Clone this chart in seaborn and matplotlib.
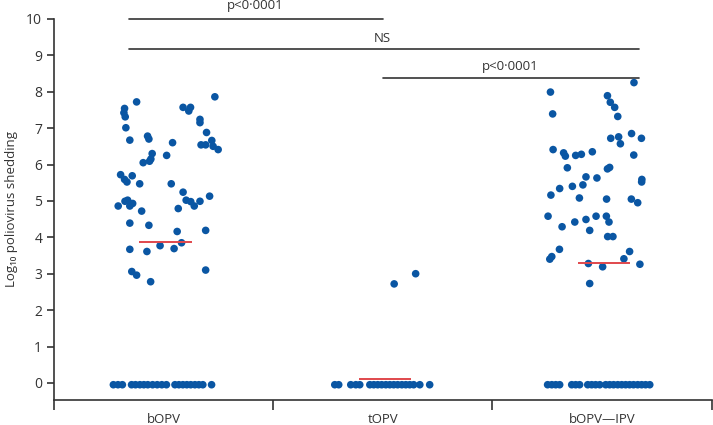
import numpy as np
import pandas as pd
import seaborn as sns
import matplotlib.pyplot as plt

groups = ["bOPV", "tOPV", "bOPV\u2014IPV"]

# bOPV: shedding values and horizontal spread
bopv_vals = [7.72, 7.54, 7.42, 7.31, 7.01, 6.67, 6.78, 6.70, 6.30, 6.15, 6.09, 6.05,
             6.25, 6.60, 7.57, 7.57, 7.47, 7.24, 7.15, 6.88, 7.86, 6.66, 6.54, 6.54,
             6.50, 6.41, 5.72, 5.59, 5.52, 5.69, 5.47, 4.86, 4.99, 5.02, 4.86, 4.93,
             4.72, 5.47, 5.24, 5.02, 4.98, 4.86, 4.99, 5.13, 4.79, 4.39, 4.33, 3.67,
             3.61, 3.77, 3.69, 3.85, 4.16, 4.19, 3.10, 3.06, 2.96, 2.78]
bopv_jit = [-0.123, -0.178, -0.181, -0.175, -0.172, -0.154, -0.073, -0.067, -0.052, -0.058,
            -0.064, -0.093, 0.014, 0.041, 0.089, 0.123, 0.115, 0.166, 0.166, 0.196,
            0.234, 0.220, 0.171, 0.192, 0.226, 0.249, -0.196, -0.178, -0.167, -0.143,
            -0.109, -0.207, -0.176, -0.164, -0.154, -0.141, -0.100, 0.035, 0.089, 0.103,
            0.124, 0.140, 0.166, 0.210, 0.067, -0.154, -0.067, -0.154, -0.076, -0.016,
            0.048, 0.082, 0.062, 0.192, 0.192, -0.145, -0.123, -0.059]
bopv_zero_jit = [-0.229, -0.208, -0.188, -0.146, -0.128, -0.108, -0.090, -0.072, -0.050,
                 -0.029, -0.008, 0.013, 0.052, 0.070, 0.088, 0.106, 0.124, 0.143, 0.161,
                 0.179, 0.219]

# tOPV
topv_vals = [2.72, 3.00]
topv_jit = [0.052, 0.150]
topv_zero_jit = [-0.219, -0.201, -0.146, -0.123, -0.105, -0.059, -0.041, -0.023, -0.005,
                 0.014, 0.032, 0.050, 0.068, 0.087, 0.105, 0.123, 0.141, 0.169, 0.214]

# bOPV-IPV
ipv_vals = [8.25, 7.99, 7.89, 7.71, 7.57, 7.32, 7.39, 6.72, 6.76, 6.57, 6.85, 6.72,
            6.26, 6.41, 6.32, 6.23, 6.25, 6.28, 6.35, 5.91, 5.88, 5.92, 5.66, 5.63,
            5.59, 5.52, 5.34, 5.40, 5.44, 5.16, 5.08, 5.05, 5.05, 4.95, 4.58, 4.29,
            4.42, 4.49, 4.58, 4.58, 4.42, 4.19, 4.02, 4.02, 3.67, 3.40, 3.47, 3.61,
            3.41, 3.26, 3.28, 3.19, 2.73]
ipv_jit = [0.146, -0.235, 0.025, 0.038, 0.058, 0.072, -0.225, 0.040, 0.076, 0.084,
           0.135, 0.180, 0.145, -0.223, -0.175, -0.167, -0.120, -0.094, -0.044, -0.158,
           0.025, 0.035, -0.073, -0.023, 0.182, 0.181, -0.193, -0.135, -0.087, -0.233,
           -0.103, 0.021, 0.134, 0.163, -0.246, -0.182, -0.124, -0.073, -0.027, 0.020,
           0.032, -0.056, 0.026, 0.050, -0.194, -0.238, -0.229, 0.126, 0.100, 0.173,
           -0.062, 0.003, -0.056]
ipv_zero_jit = [-0.248, -0.229, -0.211, -0.193, -0.138, -0.120, -0.102, -0.065, -0.047,
                -0.029, -0.010, 0.017, 0.035, 0.053, 0.072, 0.090, 0.108, 0.126, 0.144,
                0.163, 0.181, 0.199, 0.218]

zero_shown = -0.05  # undetectable samples drawn just under 0
medians = [3.86, 0.11, 3.29]

rows = []
for gi, (vals, jit, zjit) in enumerate([(bopv_vals, bopv_jit, bopv_zero_jit),
                                         (topv_vals, topv_jit, topv_zero_jit),
                                         (ipv_vals, ipv_jit, ipv_zero_jit)]):
    for v, j in zip(vals, jit):
        rows.append({"group": groups[gi], "x": gi + j, "shedding": v})
    for j in zjit:
        rows.append({"group": groups[gi], "x": gi + j, "shedding": zero_shown})
df = pd.DataFrame(rows)

sns.set_style("white")
plt.rcParams["font.family"] = ["Open Sans", "DejaVu Sans"]
ink = "#333333"

fig = plt.figure(figsize=(7.13, 4.25), dpi=100)
ax = fig.add_axes([0.0757, 0.0588, 0.9223, 0.8967])

sns.scatterplot(data=df, x="x", y="shedding", color="#0a56a3", s=30,
                edgecolor="none", ax=ax, legend=False, zorder=3)

for gi, m in enumerate(medians):
    ax.hlines(m, gi - 0.11, gi + 0.13, color="#e0474c", lw=1.4, zorder=4)

# significance brackets
ax.plot([-0.16, 1.0], [10, 10], color=ink, lw=1.2, clip_on=False)
ax.text(0.42, 10.36, "p<0\u00b70001", ha="center", va="center", fontsize=9.5,
        color=ink, clip_on=False)
ax.plot([-0.16, 2.17], [9.17, 9.17], color=ink, lw=1.2, clip_on=False)
ax.text(1.0, 9.45, "NS", ha="center", va="center", fontsize=9.5, color=ink)
ax.plot([1.0, 2.17], [8.38, 8.38], color=ink, lw=1.2, clip_on=False)
ax.text(1.58, 8.68, "p<0\u00b70001", ha="center", va="center", fontsize=9.5, color=ink)

ax.set_xlim(-0.5, 2.5)
ax.set_ylim(-0.47, 10)
ax.set_yticks(range(0, 11))
ax.set_xticks([0, 1, 2])
ax.set_xticklabels(groups)
ax.set_xticks([-0.5, 0.5, 1.5, 2.5], minor=True)
ax.tick_params(axis="x", which="major", length=0, pad=9, labelsize=9.5, colors=ink)
ax.tick_params(axis="x", which="minor", length=7, width=1.2, color=ink,
               direction="out", bottom=True)
ax.tick_params(axis="y", length=5, width=1.2, color=ink, labelsize=10,
               labelcolor=ink, left=True)
ax.set_xlabel("")
ax.set_ylabel("Log\u2081\u2080 poliovirus shedding", fontsize=9.5, color=ink, labelpad=6)

sns.despine(ax=ax)
for side in ["left", "bottom"]:
    ax.spines[side].set_color(ink)
    ax.spines[side].set_linewidth(1.2)

fig.savefig("out.png", dpi=100)
